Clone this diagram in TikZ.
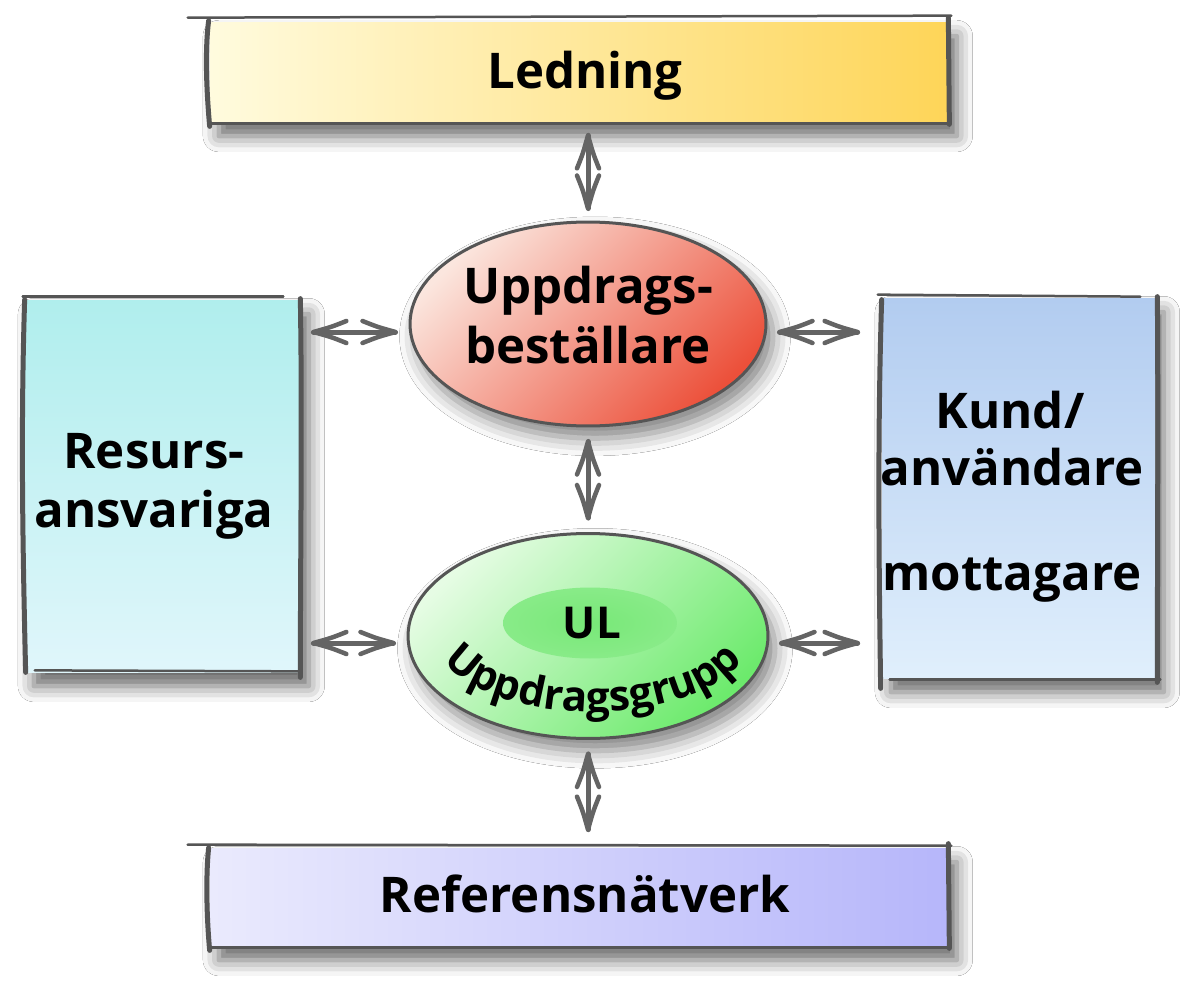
\documentclass[tikz,border=0pt]{standalone}
\usepackage{fontspec}
\setmainfont{Open Sans}
\usetikzlibrary{shadows.blur,decorations.text,fit,calc,shapes.geometric}
\definecolor{edgec}{RGB}{85,85,85}
\definecolor{arrc}{RGB}{100,100,100}
\definecolor{ledL}{RGB}{255,251,222}
\definecolor{ledR}{RGB}{254,213,88}
\definecolor{refL}{RGB}{234,234,253}
\definecolor{refR}{RGB}{182,182,250}
\definecolor{resT}{RGB}{176,238,237}
\definecolor{resB}{RGB}{224,246,251}
\definecolor{kunT}{RGB}{178,204,240}
\definecolor{kunB}{RGB}{224,239,252}
\definecolor{redA}{RGB}{251,230,222}
\definecolor{redB}{RGB}{236,80,58}
\definecolor{grnA}{RGB}{230,252,228}
\definecolor{grnB}{RGB}{108,234,108}
\definecolor{grnC}{RGB}{120,232,120}
\tikzset{
  lab/.style={font=\bfseries\fontsize{28}{34}\selectfont, text=black, anchor=base, inner sep=0pt},
  boxshadow/.style={blur shadow={shadow xshift=5pt, shadow yshift=-8pt, shadow blur radius=9pt, shadow opacity=60}},
  ellshadow/.style={blur shadow={shadow xshift=4pt, shadow yshift=-7pt, shadow blur radius=10pt, shadow opacity=50}},
  area/.style={inner sep=0pt, draw=none},
  thickedge/.style={draw=edgec, line width=0.1cm, line cap=round},
  thinedge/.style={draw=edgec, line width=0.05cm, line cap=round},
  ellbox/.style={ellipse, draw=edgec, line width=0.06cm, inner sep=0pt},
  arrshaft/.style={draw=arrc, line width=0.1cm, line cap=round, line join=round},
  arrbarb/.style={draw=arrc, line width=0.09cm, line cap=round, line join=round},
}
% double-headed connectors between two named coordinates
\newcommand\hconn[2]{%
  \draw[arrshaft] (#1) -- (#2);
  \draw[arrbarb] ($(#1)+(33,-11)$) .. controls ($(#1)+(18,-5)$) .. (#1) .. controls ($(#1)+(18,5)$) .. ($(#1)+(33,11)$);
  \draw[arrbarb] ($(#2)+(-33,-11)$) .. controls ($(#2)+(-18,-5)$) .. (#2) .. controls ($(#2)+(-18,5)$) .. ($(#2)+(-33,11)$);}
\newcommand\vconn[2]{%
  \draw[arrshaft] (#1) -- (#2);
  \draw[arrbarb] ($(#1)+(-11,33)$) .. controls ($(#1)+(-5,18)$) .. (#1) .. controls ($(#1)+(5,18)$) .. ($(#1)+(11,33)$);
  \draw[arrbarb] ($(#2)+(-11,-33)$) .. controls ($(#2)+(-5,-18)$) .. (#2) .. controls ($(#2)+(5,-18)$) .. ($(#2)+(11,-33)$);}
\begin{document}
\begin{tikzpicture}[x=0.02cm,y=-0.02cm]
\fill[white] (0,0) rectangle (1200,1004);
\useasboundingbox (0,0) rectangle (1200,1004);

% ---------- boxes ----------
\node[area, fit={(210,22) (948,122)}, left color=ledL, right color=ledR, boxshadow] (led) {};
\node[area, fit={(210,848) (948,946)}, left color=refL, right color=refR, boxshadow] (refn) {};
\node[area, fit={(25,300) (300,672)}, top color=resT, bottom color=resB, boxshadow] (res) {};
\node[area, fit={(882,298) (1155,678)}, top color=kunT, bottom color=kunB, boxshadow] (kund) {};

% sketchy edges: Ledning
\draw[thinedge] ($(led.north west)+(-22,-4)$) -- ($(led.north east)+(3,-6)$);
\draw[thickedge] ($(led.north west)+(-1,-1)$) .. controls ($(led.west)+(-5,-20)$) and ($(led.west)+(-3,20)$) .. ($(led.south west)+(0,4)$);
\draw[thinedge] ($(led.south west)+(0,1)$) -- ($(led.south east)+(0,1)$);
\draw[thickedge] ($(led.north east)+(0,-4)$) -- ($(led.south east)+(1,2)$);
% Referensnaetverk
\draw[thinedge] ($(refn.north west)+(-22,-3)$) -- ($(refn.north east)+(3,-2)$);
\draw[thickedge] ($(refn.north west)+(-1,0)$) .. controls ($(refn.west)+(-4,-20)$) and ($(refn.west)+(-3,20)$) .. ($(refn.south west)+(0,4)$);
\draw[thinedge] ($(refn.south west)+(0,1)$) -- ($(refn.south east)+(0,1)$);
\draw[thickedge] ($(refn.north east)+(0,-4)$) -- ($(refn.south east)+(1,2)$);
% Resursansvariga
\draw[thinedge] ($(res.north west)+(-2,-3)$) -- ($(res.north east)+(-17,-3)$);
\draw[thickedge] ($(res.north west)+(0,0)$) .. controls ($(res.west)+(-4,-60)$) and ($(res.west)+(-2,60)$) .. ($(res.south west)+(1,0)$);
\draw[thinedge] ($(res.south west)+(10,-2)$) -- ($(res.south east)+(0,-1)$);
\draw[thickedge] ($(res.north east)+(0,-1)$) .. controls ($(res.east)+(2,-60)$) and ($(res.east)+(0,60)$) .. ($(res.south east)+(0,5)$);
% Kund
\draw[thinedge] ($(kund.north west)+(-4,-3)$) -- ($(kund.north east)+(-15,-1)$);
\draw[thickedge] ($(kund.north west)+(0,2)$) .. controls ($(kund.west)+(-4,-60)$) and ($(kund.west)+(-3,60)$) .. ($(kund.south west)+(-1,10)$);
\draw[thinedge] ($(kund.south west)+(8,1)$) -- ($(kund.south east)+(5,1)$);
\draw[thickedge] ($(kund.north east)+(2,-1)$) .. controls ($(kund.east)+(3,-60)$) and ($(kund.east)+(2,60)$) .. ($(kund.south east)+(2,4)$);

% ---------- ellipses ----------
\node[ellbox, minimum width=7.12cm, minimum height=4.08cm, top color=redA, bottom color=redB, shading angle=45, ellshadow] (upb) at (588,324) {};
\node[ellbox, minimum width=7.2cm, minimum height=4.1cm, top color=grnA, bottom color=grnB, shading angle=45, ellshadow] (ulg) at (588,636) {};
\node[ellipse, inner color=grnC, outer color=grnC!85!grnA, draw=none, minimum width=3.48cm, minimum height=1.42cm, inner sep=0pt] (ulin) at (590,623) {};

% ---------- connectors ----------
\coordinate (yT) at (0,332);
\coordinate (yB) at (0,643);
\coordinate (v1a) at ($(upb.north |- led.south)+(0,13)$);
\coordinate (v1b) at ($(upb.north)+(0,-12)$);
\coordinate (v2a) at ($(upb.south)+(0,14)$);
\coordinate (v2b) at ($(ulg.north)+(0,-14)$);
\coordinate (v3a) at ($(ulg.south)+(0,14)$);
\coordinate (v3b) at ($(ulg.south |- refn.north)+(0,-18)$);
\coordinate (h1a) at ($(res.east |- yT)+(13,0)$);
\coordinate (h1b) at ($(upb.west |- yT)+(-13,0)$);
\coordinate (h2a) at ($(res.east |- yB)+(13,0)$);
\coordinate (h2b) at ($(ulg.west |- yB)+(-13,0)$);
\coordinate (h3a) at ($(upb.east |- yT)+(12,0)$);
\coordinate (h3b) at ($(kund.west |- yT)+(-24,0)$);
\coordinate (h4a) at ($(ulg.east |- yB)+(12,0)$);
\coordinate (h4b) at ($(kund.west |- yB)+(-24,0)$);
\vconn{v1a}{v1b}
\vconn{v2a}{v2b}
\vconn{v3a}{v3b}
\hconn{h1a}{h1b}
\hconn{h2a}{h2b}
\hconn{h3a}{h3b}
\hconn{h4a}{h4b}

% ---------- labels ----------
\node[lab] (ledlab) at (585,88) {Ledning};
\node[lab] (reflab) at (585,912) {Referensnätverk};
\node[lab] (upb1) at (588,303) {Uppdrags-};
\node[lab] (upb2) at (588,363) {beställare};
\node[lab] (res1) at (154,468) {Resurs-};
\node[lab] (res2) at (154,527) {ansvariga};
\node[lab] (kun1) at (1010,428) {Kund/};
\node[lab] (kun2) at (1012,485) {användare};
\node[lab] (kun3) at (1012,590) {mottagare};
\node[font=\bfseries\fontsize{25}{30}\selectfont, anchor=base, inner sep=0pt] (ullab) at (592,638) {UL};
\path[decorate, decoration={text along path, text align=center,
   text={|\bfseries\fontsize{24}{28}\selectfont|Uppdragsgrupp}}]
   ($(593,630)+(195:162 and 82)$) arc[start angle=195, end angle=-15, x radius=162, y radius=82];
\end{tikzpicture}
\end{document}
